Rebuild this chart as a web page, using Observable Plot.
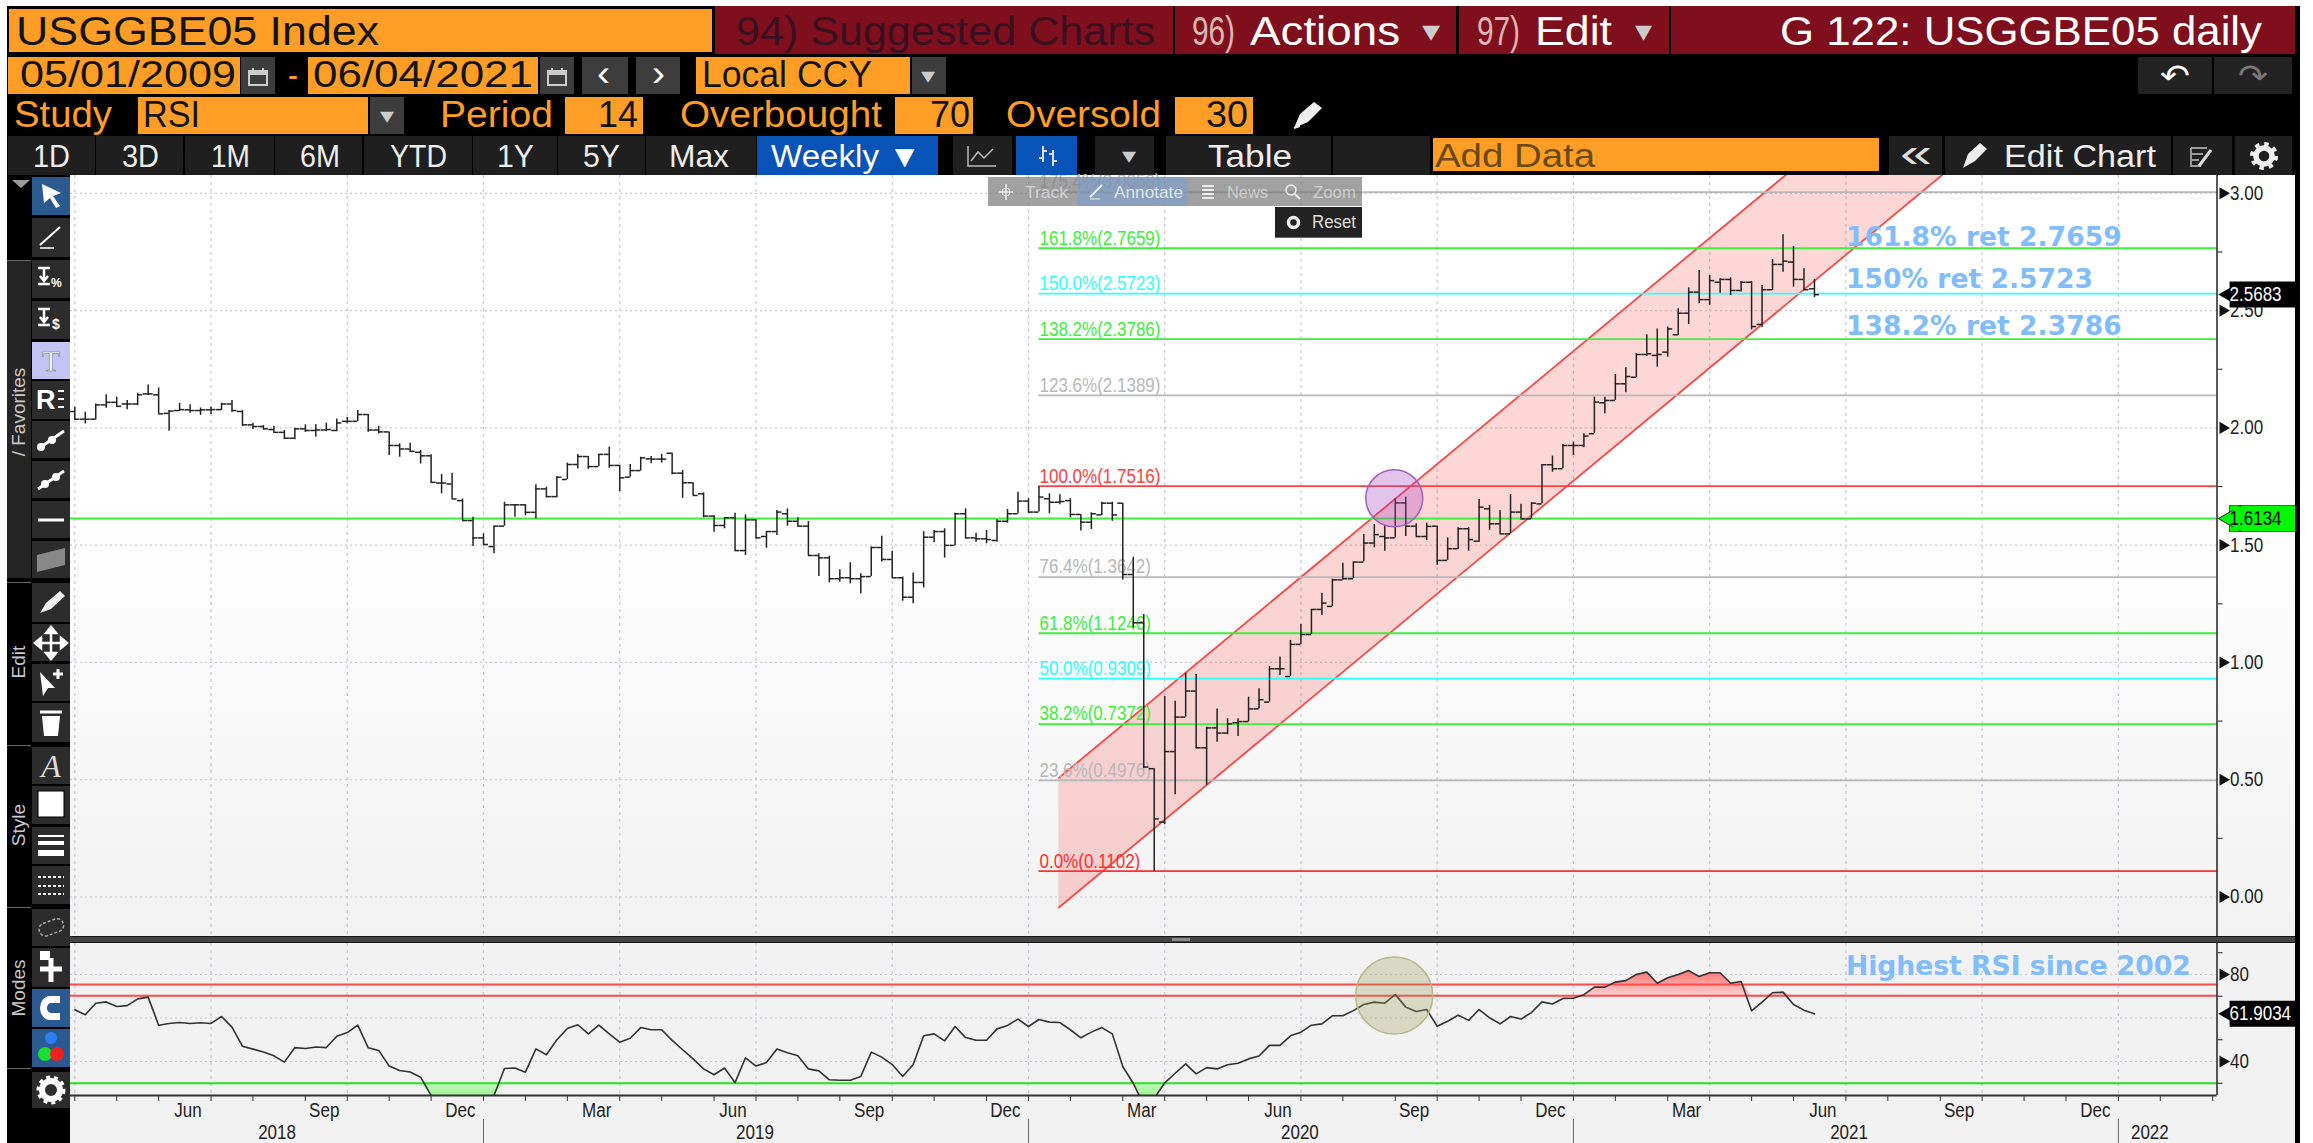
<!DOCTYPE html>
<html><head><meta charset="utf-8">
<script src="https://cdn.jsdelivr.net/npm/d3@7"></script>
<script src="https://cdn.jsdelivr.net/npm/@observablehq/plot@0.6"></script>
<style>
html,body{margin:0;padding:0;background:#fff;overflow:hidden}
#page{position:relative;width:2313px;height:1143px;overflow:hidden;background:#fff;font-family:"Liberation Sans",sans-serif}
#black{position:absolute;left:7px;top:6px;width:2293px;height:1137px;background:#000}
.b{position:absolute;box-sizing:border-box}
.t{position:absolute;white-space:pre;transform-origin:0 50%;display:inline-block}
.plot{position:absolute}
.plot svg{display:block}
</style></head><body>
<div id="page"><div id="black"></div></div>
<svg width="0" height="0" style="position:absolute"><defs>
<linearGradient id="redGrad" x1="0" y1="0" x2="0" y2="1"><stop offset="0" stop-color="#ff7070"/><stop offset="1" stop-color="#ffd0d0"/></linearGradient>
<linearGradient id="greenGrad" x1="0" y1="0" x2="0" y2="1"><stop offset="0" stop-color="#c8f8c0"/><stop offset="1" stop-color="#7df070"/></linearGradient>
</defs></svg>
<script>
// ---------- weekly bars of USGGBE05 Index, one entry per week (first visible bar = 0)
const barOpen=[2.070,2.037,2.037,2.098,2.109,2.102,2.102,2.145,2.141,2.062,
2.074,2.077,2.074,2.077,2.078,2.102,2.070,2.013,2.006,1.993,
1.981,1.956,1.996,1.989,1.991,1.989,2.028,2.028,2.057,1.991,
1.983,1.925,1.910,1.896,1.881,1.765,1.761,1.690,1.605,1.531,
1.494,1.581,1.672,1.672,1.640,1.740,1.707,1.780,1.844,1.878,
1.835,1.887,1.840,1.790,1.818,1.868,1.867,1.892,1.807,1.766,
1.719,1.624,1.584,1.617,1.477,1.608,1.537,1.558,1.634,1.602,
1.581,1.456,1.446,1.357,1.361,1.357,1.366,1.490,1.439,1.361,
1.278,1.341,1.534,1.558,1.499,1.634,1.531,1.527,1.520,1.602,
1.634,1.688,1.641,1.698,1.683,1.690,1.631,1.598,1.629,1.679,
1.679,1.375,1.169,0.547,0.319,0.620,0.767,0.878,0.636,0.721,
0.699,0.743,0.748,0.802,0.831,0.973,0.940,1.077,1.119,1.226,
1.239,1.352,1.357,1.428,1.509,1.537,1.531,1.680,1.581,1.537,
1.581,1.435,1.485,1.570,1.517,1.655,1.591,1.548,1.641,1.612,
1.676,1.843,1.826,1.925,1.925,1.975,2.107,2.117,2.188,2.216,
2.313,2.309,2.323,2.397,2.489,2.579,2.547,2.621,2.633,2.586,
2.621,2.441,2.589,2.697,2.707,2.633,2.593];
const barHigh=[2.088,2.067,2.102,2.141,2.131,2.117,2.148,2.183,2.170,2.074,
2.105,2.099,2.085,2.088,2.105,2.117,2.074,2.020,2.010,2.007,
1.989,1.999,2.013,2.013,2.020,2.038,2.045,2.074,2.057,2.007,
1.983,1.932,1.935,1.903,1.885,1.801,1.807,1.697,1.619,1.548,
1.581,1.683,1.673,1.673,1.758,1.747,1.792,1.850,1.887,1.878,
1.887,1.918,1.840,1.844,1.875,1.878,1.887,1.892,1.818,1.766,
1.723,1.627,1.617,1.636,1.629,1.608,1.558,1.648,1.655,1.617,
1.601,1.463,1.453,1.395,1.425,1.378,1.492,1.538,1.474,1.364,
1.381,1.558,1.563,1.570,1.636,1.655,1.551,1.563,1.608,1.652,
1.726,1.698,1.750,1.719,1.715,1.698,1.631,1.638,1.683,1.683,
1.679,1.449,1.204,0.547,0.855,0.835,0.954,0.949,0.724,0.802,
0.760,0.760,0.852,0.888,0.983,1.023,1.094,1.162,1.226,1.295,
1.355,1.423,1.428,1.545,1.588,1.584,1.698,1.705,1.591,1.594,
1.581,1.531,1.574,1.574,1.695,1.669,1.648,1.716,1.674,1.681,
1.844,1.880,1.929,1.939,1.975,2.131,2.131,2.228,2.256,2.316,
2.397,2.422,2.430,2.508,2.597,2.671,2.650,2.636,2.640,2.624,
2.624,2.607,2.718,2.823,2.773,2.678,2.633];
const barLow=[2.034,2.017,2.034,2.084,2.088,2.077,2.095,2.138,2.060,1.986,
2.070,2.062,2.053,2.057,2.074,2.067,2.006,1.993,1.991,1.977,
1.950,1.949,1.981,1.960,1.984,1.984,2.017,2.027,1.981,1.974,
1.882,1.875,1.896,1.846,1.765,1.719,1.697,1.605,1.494,1.498,
1.463,1.581,1.619,1.626,1.612,1.702,1.702,1.780,1.825,1.823,
1.835,1.828,1.729,1.790,1.816,1.847,1.850,1.800,1.700,1.712,
1.617,1.555,1.570,1.474,1.456,1.527,1.487,1.541,1.581,1.577,
1.456,1.366,1.339,1.342,1.335,1.293,1.366,1.428,1.361,1.261,
1.250,1.318,1.510,1.445,1.499,1.527,1.513,1.506,1.513,1.594,
1.634,1.638,1.641,1.634,1.672,1.617,1.560,1.567,1.627,1.602,
1.352,1.146,0.547,0.110,0.308,0.436,0.767,0.632,0.476,0.660,
0.692,0.684,0.746,0.802,0.831,0.944,0.940,1.077,1.119,1.200,
1.239,1.352,1.357,1.428,1.489,1.474,1.531,1.537,1.537,1.520,
1.414,1.435,1.482,1.475,1.513,1.563,1.548,1.548,1.612,1.612,
1.676,1.811,1.826,1.882,1.915,1.975,2.060,2.117,2.150,2.216,
2.304,2.259,2.302,2.394,2.441,2.529,2.522,2.574,2.564,2.579,
2.418,2.429,2.586,2.664,2.600,2.586,2.555];
const barClose=[2.037,2.037,2.098,2.109,2.092,2.102,2.141,2.145,2.060,2.072,
2.078,2.074,2.077,2.078,2.102,2.074,2.013,2.006,1.996,1.981,
1.956,1.996,1.989,1.991,1.993,2.021,2.028,2.057,1.991,1.983,
1.925,1.910,1.900,1.881,1.768,1.765,1.697,1.605,1.531,1.503,
1.581,1.672,1.672,1.640,1.740,1.707,1.790,1.844,1.878,1.835,
1.887,1.840,1.787,1.818,1.872,1.867,1.867,1.807,1.766,1.712,
1.624,1.584,1.617,1.477,1.608,1.531,1.558,1.641,1.602,1.581,
1.456,1.446,1.357,1.361,1.357,1.366,1.490,1.439,1.361,1.278,
1.341,1.534,1.558,1.499,1.634,1.531,1.527,1.524,1.602,1.634,
1.688,1.641,1.705,1.683,1.686,1.631,1.598,1.634,1.679,1.629,
1.375,1.169,0.554,0.333,0.620,0.767,0.878,0.636,0.721,0.699,
0.738,0.748,0.802,0.841,0.973,0.973,1.077,1.119,1.226,1.253,
1.352,1.357,1.428,1.509,1.545,1.531,1.680,1.581,1.537,1.580,
1.435,1.485,1.570,1.524,1.662,1.591,1.548,1.641,1.612,1.679,
1.843,1.826,1.925,1.925,1.965,2.110,2.117,2.188,2.219,2.313,
2.316,2.313,2.422,2.489,2.579,2.547,2.628,2.633,2.586,2.621,
2.432,2.589,2.697,2.711,2.633,2.589,2.568];
const rsiValues=[63.8,61.5,66.8,67.4,65.3,65.7,68.8,69.6,56.7,57.5,
57.9,57.5,57.8,57.5,60.7,55.8,47,45.7,44.4,42.6,
39.7,46.4,46,46.7,46.4,51.6,53.3,56.7,46.3,45.1,
37.9,35.9,35.2,32.8,24.4,22,21,20,21,22,
24.4,36.8,37,35.1,45.8,43.1,50,55.2,56.9,52.7,
56.7,52.7,48.9,50.7,55.6,54.6,54.6,49.7,45.4,41.2,
36.6,33.9,37,30.3,41.7,37.9,39.5,45.7,44,42.6,
36.6,35.7,31.6,31.4,31.4,33.1,44.3,42,38.6,33.1,
38.6,51.8,52.7,49.5,56.1,51,49.8,49.8,55,56.6,
59.5,56.1,59.3,58.1,57.9,54.6,50.9,53.5,55.6,52.7,
37.7,30,20,23,
30.2,34.6,38.9,34.3,37.2,36.6,38.5,39.2,41.2,42.5,
47.4,47.4,51.8,53.5,56.7,57.3,61,61,63.4,66.2,
67.3,66.8,70.8,65,63,63.9,56.2,58.5,61.3,58.9,
63.9,60.1,57.3,60.7,59.5,62.5,67.4,66.4,69,69.1,
70.7,74.2,74.2,76.5,77.2,80,81.1,76,78.5,80,
81.8,79.1,80.8,80.8,76,76.8,63.3,67.3,71.6,71.9,
66.2,63.6,61.9];

// Fibonacci levels drawn from the 0.1102 low to the 1.7516 high
const fibValues=[3.0056,2.7659,2.5723,2.3786,2.1389,1.7516,1.3642,1.1246,0.9309,0.7372,0.4976,0.1102];
const fibPercents=["175.4%","161.8%","150.0%","138.2%","123.6%","100.0%","76.4%","61.8%","50.0%","38.2%","23.6%","0.0%"];
const fibColors=["#b8b8b8","#3cf03c","#30ffff","#3cf03c","#b8b8b8","#ff4040","#b8b8b8","#3cf03c","#30ffff","#3cf03c","#b8b8b8","#ff3030"];
const fibStartWeek=92;
const supportLevel=1.6134, lastPrice=2.5683, lastRsi=61.9034;

// Trend channel
const channelWeeks=[93.9,178.5], channelLower=[-0.045,3.09], channelUpper=[0.508,3.643];

// Call-outs
const calloutText=["161.8% ret 2.7659","150% ret 2.5723","138.2% ret 2.3786"];
const calloutY=[2.81,2.633,2.432];
const calloutWeek=169;
const rsiCallout="Highest RSI since 2002", rsiCalloutY=83.7;
const markerWeek=125.9, markerPrice=1.70, markerRsi=70.3;

// Axes
const priceLabels=[0,0.5,1,1.5,2,2.5,3];
const priceMinor=[0.25,0.75,1.25,1.75,2.25,2.75];
const rsiGrid=[80,60,40], rsiLabels=[80,40], rsiMinor=[90,70,50,30];
const rsiBands=[75.4,70.2], rsiOversold=30;
const gridWeeks=[0,13,26,39,52,65,78,91,104,117,130,143,156,169,182,195];
const minorWeeks=[0,4,8,13,17,22,26,30,34,39,43,47,52,56,61,65,69,73,78,82,87,91,95,100,104,108,112,117,121,126,130,134,138,143,147,152,156,160,164,169,173,178,182,186,190,195,199,204];
const monthNames=["Jun","Sep","Dec","Mar","Jun","Sep","Dec","Mar","Jun","Sep","Dec","Mar","Jun","Sep","Dec"];
const monthWeeks=[10.8,23.8,36.8,49.8,62.8,75.8,88.8,101.8,114.8,127.8,140.8,153.8,166.8,179.8,192.8];
const yearNames=["2018","2019","2020","2021","2022"];
const yearWeeks=[19.3,64.9,116.9,169.3,198];
const yearBreaks=[39,91,143,195];

const bars=barOpen.map((o,i)=>({i,o,h:barHigh[i],l:barLow[i],c:barClose[i],r:rsiValues[i]}));
const xMin=-0.41,xMax=204.41;
const narrow='"Liberation Sans Narrow","Liberation Sans",sans-serif';
const gridColor="#c9c9d6";
const page=document.getElementById("page");

function addPlot(left,top,plot){
  const d=document.createElement("div");d.className="plot";d.style.left=left+"px";d.style.top=top+"px";d.appendChild(plot);page.appendChild(d);
  // The narrow face is not guaranteed: condense any text set in that stack.
  plot.querySelectorAll("text").forEach(t=>{
    const g=t.closest("[font-family]");
    if(g&&g.getAttribute("font-family").includes("Narrow")){
      t.setAttribute("textLength",(t.getComputedTextLength()*0.85).toFixed(1));
      t.setAttribute("lengthAdjust","spacingAndGlyphs");
    }
  });
}
const tag=(value,bg,fg,text,edge)=>[
  ...(edge?[Plot.ruleY([value],{x1:xMax+1.2,x2:xMax+7.49,stroke:edge,strokeWidth:27})]:[]),
  Plot.ruleY([value],{x1:xMax+1.25,x2:xMax+7.49,stroke:bg,strokeWidth:26}),
  Plot.dot([value],{x:xMax+1.55,y:d=>d,symbol:"triangle",rotate:-90,r:9.6,fill:bg,stroke:edge||bg,strokeWidth:edge?1:0}),
  Plot.ruleY([value],{x1:xMax+1.55,x2:xMax+7.49,stroke:bg,strokeWidth:24}),
  Plot.text([text],{x:xMax+1.2,y:value,text:d=>d,textAnchor:"start",fill:fg,fontSize:20,fontFamily:narrow})
];
// ---------- main price pane
addPlot(70,175,Plot.plot({
  width:2225,height:761,marginLeft:0,marginRight:78.5,marginTop:0,marginBottom:0,
  style:{background:"linear-gradient(#fff 0%,#fff 40%,#f2f2f2 100%)",overflow:"visible"},
  x:{domain:[xMin,xMax],axis:null},
  y:{domain:[-0.1684,3.0761],axis:null},
  marks:[
    Plot.ruleY(priceLabels,{stroke:gridColor,strokeDasharray:"2,3",strokeWidth:1.2}),
    Plot.ruleX(gridWeeks,{stroke:gridColor,strokeDasharray:"3,4",strokeWidth:1.2}),
    Plot.areaY(channelWeeks,{x:d=>d,y1:(d,i)=>channelLower[i],y2:(d,i)=>channelUpper[i],fill:"#f86060",fillOpacity:0.26,clip:true}),
    Plot.line(channelWeeks,{x:d=>d,y:(d,i)=>channelLower[i],stroke:"#f84848",strokeWidth:1.8,clip:true}),
    Plot.line(channelWeeks,{x:d=>d,y:(d,i)=>channelUpper[i],stroke:"#f84848",strokeWidth:1.8,clip:true}),
    Plot.ruleY([supportLevel],{stroke:"#3cf03c",strokeWidth:2}),
    Plot.ruleY(fibValues,{x1:fibStartWeek,x2:xMax,y:d=>d,stroke:(d,i)=>fibColors[i],strokeWidth:1.8}),
    Plot.text(fibValues,{x:fibStartWeek+0.05,y:d=>d,text:(d,i)=>`${fibPercents[i]}(${d.toFixed(4)})`,fill:(d,i)=>fibColors[i],textAnchor:"start",dy:-10,fontSize:20,fontFamily:narrow}),
    Plot.ruleX(bars,{x:"i",y1:"l",y2:"h",stroke:"#222",strokeWidth:1.5}),
    Plot.ruleY(bars,{y:"o",x1:d=>d.i-0.48,x2:"i",stroke:"#222",strokeWidth:1.5}),
    Plot.ruleY(bars,{y:"c",x1:"i",x2:d=>d.i+0.48,stroke:"#222",strokeWidth:1.5}),
    Plot.dot([markerPrice],{x:markerWeek,y:d=>d,r:28.5,fill:"#a848c0",fillOpacity:0.32,stroke:"#a060b8",strokeWidth:1.5}),
    Plot.text(calloutText,{x:calloutWeek,y:(d,i)=>calloutY[i],text:d=>d,textAnchor:"start",fill:"#82bdfb",fontSize:26.6,fontWeight:"bold",fontFamily:"DejaVu Sans"}),
    Plot.ruleX([xMax],{stroke:"#222",strokeWidth:1.5}),
    Plot.axisY({anchor:"right",ticks:priceMinor,tickSize:5,text:null,label:null,stroke:"#222"}),
    Plot.dot(priceLabels,{x:xMax,y:d=>d,dx:6,symbol:"triangle",rotate:90,r:4.5,fill:"#111"}),
    Plot.text(priceLabels,{x:xMax,y:d=>d,text:d=>d.toFixed(2),dx:13,textAnchor:"start",fontSize:20,fontFamily:narrow,fill:"#1d1d1d"}),
    ...tag(lastPrice,"#000","#fff",lastPrice.toFixed(4)),
    ...tag(supportLevel,"#00f800","#000",supportLevel.toFixed(4),"#222")
  ]
}));
// ---------- RSI pane with the time axis below it
addPlot(70,943,Plot.plot({
  width:2225,height:200,marginLeft:0,marginRight:78.5,marginTop:0,marginBottom:48,
  style:{background:"#f2f2f2",overflow:"visible"},
  x:{domain:[xMin,xMax],axis:null},
  y:{domain:[24.37,94.25],axis:null},
  marks:[
    Plot.ruleY(rsiGrid,{stroke:gridColor,strokeDasharray:"2,3",strokeWidth:1.2}),
    Plot.ruleX(gridWeeks,{stroke:gridColor,strokeDasharray:"3,4",strokeWidth:1.2}),
    Plot.areaY(bars,{x:"i",y1:rsiBands[1],y2:d=>Math.max(d.r,rsiBands[1]),fill:"url(#redGrad)",clip:true}),
    Plot.areaY(bars,{x:"i",y1:rsiOversold,y2:d=>Math.min(d.r,rsiOversold),fill:"url(#greenGrad)",clip:true}),
    Plot.ruleY(rsiBands,{stroke:"#ff4a4a",strokeWidth:2}),
    Plot.ruleY([rsiOversold],{stroke:"#22e622",strokeWidth:2}),
    Plot.line(bars,{x:"i",y:"r",stroke:"#333",strokeWidth:1.6,clip:true}),
    Plot.dot([markerRsi],{x:markerWeek,y:d=>d,r:38.5,fill:"#9a9a5a",fillOpacity:0.3,stroke:"#b8b888",strokeWidth:1.5}),
    Plot.text([rsiCallout],{x:calloutWeek,y:rsiCalloutY,textAnchor:"start",text:d=>d,fill:"#82bdfb",fontSize:26.6,fontWeight:"bold",fontFamily:"DejaVu Sans"}),
    Plot.ruleY([24.37],{stroke:"#333",strokeWidth:2}),
    Plot.ruleX([xMax],{y1:24.37,y2:94.25,stroke:"#222",strokeWidth:1.5}),
    Plot.axisY({anchor:"right",ticks:rsiMinor,tickSize:5,text:null,label:null,stroke:"#222"}),
    Plot.dot(rsiLabels,{x:xMax,y:d=>d,dx:6,symbol:"triangle",rotate:90,r:4.5,fill:"#111"}),
    Plot.text(rsiLabels,{x:xMax,y:d=>d,text:d=>String(d),dx:13,textAnchor:"start",fontSize:20,fontFamily:narrow,fill:"#1d1d1d"}),
    ...tag(lastRsi,"#000","#fff",lastRsi.toFixed(4)),
    Plot.axisX({anchor:"bottom",ticks:minorWeeks,tickSize:6,text:null,label:null,stroke:"#333"}),
    Plot.text(monthNames,{x:(d,i)=>monthWeeks[i],text:d=>d,frameAnchor:"bottom",dy:15,fontSize:20,fontFamily:narrow,lineAnchor:"middle",fill:"#222"}),
    Plot.text(yearNames,{x:(d,i)=>yearWeeks[i],text:d=>d,frameAnchor:"bottom",dy:37,fontSize:20,fontFamily:narrow,lineAnchor:"middle",fill:"#222"}),
    Plot.ruleX(yearBreaks,{y1:13.3,y2:2.3,stroke:"#666",strokeWidth:1})
  ]
}));

// ---------- terminal chrome around the chart
function box(x1,y1,x2,y2,bg,extra){const e=document.createElement("div");e.className="b";e.style.cssText=`left:${x1}px;top:${y1}px;width:${x2-x1}px;height:${y2-y1}px;background:${bg};${extra||""}`;page.appendChild(e);return e;}
function txt(s,x1,x2,yc,size,color,extra){const e=document.createElement("span");e.className="t";e.textContent=s;e.style.cssText=`left:${x1}px;top:${yc-size/2}px;line-height:${size}px;font-size:${size}px;color:${color};${extra||""}`;page.appendChild(e);
  const w=e.getBoundingClientRect().width;e.style.transform=`scaleX(${(x2-x1)/w})`;return e;}
function icon(x,y,w,h,inner){const d=document.createElement("div");d.style.cssText=`position:absolute;left:${x}px;top:${y}px;width:${w}px;height:${h}px`;d.innerHTML=`<svg width="${w}" height="${h}" viewBox="0 0 ${w} ${h}" style="display:block">${inner}</svg>`;page.appendChild(d);}
const ORANGE="#ff9e26",MAROON="#7f0f1d",BTN="#1f1f1f",GREY="#3d3d3d",OTXT="#ff9e26";
const H1=40,H2=36,H3=31;
// row 1
box(8,8,713,53,ORANGE,"border:1px solid #000");txt("USGGBE05 Index",16,379,31,H1,"#141414");
box(715,6,1173,54,MAROON);txt("94) Suggested Charts",736,1155,31,H1,"#3a1020");
box(1175,6,1456,54,MAROON);txt("96)",1192,1235,31,H1,"#e0b4b4");txt("Actions",1250,1400,31,H1,"#fff");txt("▾",1422,1440,31,30,"#ccc");
box(1459,6,1669,54,MAROON);txt("97)",1477,1520,31,H1,"#e0b4b4");txt("Edit",1535,1612,31,H1,"#fff");txt("▾",1635,1652,31,30,"#ccc");
box(1671,6,2295,54,MAROON);txt("G 122: USGGBE05 daily",1780,2262,31,H1,"#fff");
// row 2
box(8,57,240,94,ORANGE);txt("05/01/2009",20,236,75,H2,"#141414");
box(241,57,275,94,GREY);
box(308,57,538,94,ORANGE);txt("06/04/2021",313,533,75,H2,"#141414");
box(540,57,574,94,GREY);
[[248,68],[547,68]].forEach(([x,y])=>icon(x,y,20,18,`<rect x="1" y="3" width="18" height="14" fill="none" stroke="#ccc" stroke-width="2"/><rect x="1" y="3" width="18" height="4" fill="#ccc"/><rect x="4" y="0" width="2" height="5" fill="#ccc"/><rect x="14" y="0" width="2" height="5" fill="#ccc"/>`));
txt("-",288,298,75,H2,OTXT);
box(582,57,628,94,GREY);txt("‹",597,610,74,36,"#fff");box(636,57,680,94,GREY);txt("›",652,665,74,36,"#fff");
box(696,57,910,94,ORANGE);txt("Local CCY",702,872,75,H2,"#141414");box(912,57,946,94,GREY);txt("▾",921,935,76,22,"#ccc");
box(2138,57,2212,94,"#222");txt("↶",2160,2190,76,32,"#fff","font-family:'DejaVu Sans'");box(2214,57,2292,94,"#222");txt("↷",2238,2268,76,32,"#777","font-family:'DejaVu Sans'");
// row 3
txt("Study",14,112,115,H2,OTXT);box(138,97,368,134,ORANGE);txt("RSI",143,200,115,H2,"#141414");box(370,97,404,134,GREY);txt("▾",380,394,116,22,"#ccc");
txt("Period",440,553,115,H2,OTXT);box(565,97,643,134,ORANGE);txt("14",598,638,115,H2,"#141414");
txt("Overbought",680,882,115,H2,OTXT);box(895,97,973,134,ORANGE);txt("70",930,970,115,H2,"#141414");
txt("Oversold",1006,1161,115,H2,OTXT);box(1175,97,1253,134,ORANGE);txt("30",1206,1248,115,H2,"#141414");
icon(1288,100,40,32,`<path d="M6 28 L12 14 L26 2 L34 8 L20 22 Z" fill="#eee"/><path d="M6 28 L12 26" stroke="#eee" stroke-width="2"/>`);
// row 4
[["1D",8,95,33,70],["3D",96,183,122,159],["1M",185,274,211,250],["6M",275,362,300,340],["YTD",364,472,390,447],["1Y",473,557,497,534],["5Y",558,645,583,620],["Max",646,756,669,729]].forEach(([s,a,b,t1,t2])=>{box(a,136,b,175,BTN);txt(s,t1,t2,156,H3,"#eee");});
box(757,136,938,175,"#0753b8");txt("Weekly ▼",771,921,156,H3,"#fff");
box(953,136,1012,175,BTN);icon(966,144,32,24,`<path d="M2 2V22H30" fill="none" stroke="#bbb" stroke-width="1.5"/><path d="M5 17 L12 8 L18 14 L27 5" fill="none" stroke="#bbb" stroke-width="1.5"/>`);
box(1016,136,1077,175,"#0753b8");icon(1036,144,24,24,`<path d="M7 2V18M3 14H7M7 7H11M17 6V22M13 10H17M17 17H21" stroke="#ddd" stroke-width="2" fill="none"/>`);
box(1095,136,1154,175,BTN);txt("▾",1122,1136,156,22,"#ccc");
box(1166,136,1331,175,BTN);txt("Table",1208,1292,156,H3,"#eee");box(1333,136,1430,175,BTN);
box(1432,137,1880,172,ORANGE,"border:1px solid #000");txt("Add Data",1435,1595,155,33,"#6a4a10");
box(1889,136,1942,175,BTN);txt("«",1900,1932,153,40,"#ddd");
box(1945,136,2171,175,BTN);icon(1960,142,32,28,`<path d="M3 26 L8 12 L20 1 L27 7 L15 19 Z" fill="#eee"/>`);txt("Edit Chart",2004,2156,156,H3,"#eee");
box(2173,136,2232,175,BTN);icon(2189,146,28,22,`<path d="M2 2H18M2 8H14M2 14H10M2 2V20H12" stroke="#999" stroke-width="2" fill="none"/><path d="M10 20 L22 4" stroke="#ddd" stroke-width="3"/>`);
box(2235,136,2292,175,BTN);icon(2247,139,34,34,`<circle cx="17" cy="17" r="8" fill="none" stroke="#eee" stroke-width="5.5"/><circle cx="17" cy="17" r="12" fill="none" stroke="#eee" stroke-width="4" stroke-dasharray="4.5,4.9"/>`);

// left rail
box(7,260,31,578,"#242424");
[[260],[582],[745],[907],[1068]].forEach(([y])=>box(7,y,31,y+1,"#666"));
const rot=(s,yc,size,col)=>{const e=document.createElement("span");e.textContent=s;e.style.cssText=`position:absolute;left:19px;top:${yc}px;transform:translate(-50%,-50%) rotate(-90deg);font-size:${size}px;color:${col};white-space:pre;font-family:"Liberation Sans"`;page.appendChild(e);};
rot("/ Favorites",412,19,"#c8c8c8");rot("Edit",662,19,"#c8c8d8");rot("Style",825,19,"#c8c8d8");rot("Modes",988,19,"#c8c8c8");
icon(12,180,18,10,`<path d="M0 0H18L9 8Z" fill="#999"/>`);
const rail=[[177,215,"#2a5a8f","cursor"],[218,257,"#2c2c2c","pen"],[260,298,"#2c2c2c","pct"],[301,339,"#2c2c2c","usd"],[342,379,"#c4c4f4","T"],[381,419,"#2c2c2c","R"],[421,458,"#2c2c2c","seg"],[461,498,"#2c2c2c","seg2"],[501,538,"#2c2c2c","hline"],[541,578,"#2c2c2c","chan"],[583,622,"#2c2c2c","brush"],[624,661,"#2c2c2c","move"],[664,701,"#2c2c2c","plus"],[703,742,"#2c2c2c","trash"],[747,784,"#2c2c2c","A"],[786,824,"#2c2c2c","white"],[827,864,"#2c2c2c","lines"],[866,904,"#2c2c2c","dash"],[909,946,"#2c2c2c","lasso"],[948,987,"#2c2c2c","lock"],[989,1027,"#2a5a8f","magnet"],[1029,1067,"#2a5a8f","rgb"],[1072,1108,"#2c2c2c","gear"]];
const railIcons={
 cursor:`<path d="M10 7 L29 16 L21 19 L28 29 L24 31 L18 21 L12 26 Z" fill="#fff"/>`,
 pen:`<path d="M8 27 L28 9" stroke="#fff" stroke-width="2"/><path d="M8 30H22" stroke="#ccc" stroke-width="2"/>`,
 pct:`<path d="M6 8H18M6 24H18M12 8V20M8 16L12 21L16 16" stroke="#fff" stroke-width="2.5" fill="none"/><text x="19" y="27" font-size="12" font-weight="bold" fill="#fff">%</text>`,
 usd:`<path d="M6 8H18M6 24H18M12 8V20M8 16L12 21L16 16" stroke="#fff" stroke-width="2.5" fill="none"/><text x="20" y="28" font-size="14" font-weight="bold" fill="#fff">$</text>`,
 T:`<text x="19" y="29" text-anchor="middle" font-family="Liberation Serif" font-size="30" fill="#fff" stroke="#777" stroke-width=".6">T</text>`,
 R:`<text x="4" y="28" font-size="27" font-weight="bold" fill="#fff" font-family="Liberation Sans">R</text><path d="M26 10H32M26 18H32M26 26H32" stroke="#fff" stroke-width="2"/>`,
 seg:`<path d="M6 28L32 10" stroke="#fff" stroke-width="3"/><circle cx="9" cy="26" r="4" fill="#fff"/><circle cx="20" cy="19" r="4" fill="#fff"/>`,
 seg2:`<path d="M6 28L32 10" stroke="#fff" stroke-width="3"/><circle cx="13" cy="23" r="4" fill="#fff"/><circle cx="24" cy="16" r="4" fill="#fff"/>`,
 hline:`<path d="M6 19H32" stroke="#fff" stroke-width="3"/>`,
 chan:`<path d="M5 14L33 7V24L5 31Z" fill="#888"/>`,
 brush:`<path d="M8 30L14 20L28 8L33 13L19 26Z" fill="#eee"/>`,
 move:`<path d="M19 6V32M6 19H32M19 3L14 9H24ZM19 35L14 29H24ZM3 19L9 14V24ZM35 19L29 14V24Z" stroke="#fff" stroke-width="2.5" fill="#fff"/>`,
 plus:`<path d="M8 8L23 24L16 24L11 32Z" fill="#fff"/><path d="M26 5V15M21 10H31" stroke="#fff" stroke-width="3"/>`,
 trash:`<path d="M10 13H28L26 33H12Z" fill="#fff"/><path d="M8 9H30" stroke="#fff" stroke-width="3"/>`,
 A:`<text x="19" y="30" text-anchor="middle" font-family="Liberation Serif" font-style="italic" font-size="32" fill="#ddd">A</text>`,
 white:`<rect x="6" y="5" width="26" height="26" fill="#fff" stroke="#000"/>`,
 lines:`<path d="M6 9H32" stroke="#fff" stroke-width="2"/><path d="M6 16H32" stroke="#fff" stroke-width="4"/><path d="M6 26H32" stroke="#fff" stroke-width="6"/>`,
 dash:`<path d="M6 11H32M6 20H32M6 28H32" stroke="#fff" stroke-width="2" stroke-dasharray="3,2"/>`,
 lasso:`<rect x="7" y="12" width="25" height="13" rx="6" transform="rotate(-20 19 19)" fill="none" stroke="#aaa" stroke-width="1.5" stroke-dasharray="3,2"/>`,
 lock:`<path d="M19 10V34M8 21H30" stroke="#fff" stroke-width="5"/><rect x="8" y="3" width="10" height="9" fill="#fff"/>`,
 magnet:`<path d="M28 7H18A10 12 0 0 0 18 31H28V24H19A4 5 0 0 1 19 14H28Z" fill="#fff"/>`,
 rgb:`<circle cx="19" cy="9" r="6" fill="#2a80f0"/><circle cx="13" cy="25" r="7" fill="#18e030"/><circle cx="25" cy="25" r="7" fill="#f02020"/>`,
 gear:`<circle cx="19" cy="18" r="9" fill="none" stroke="#fff" stroke-width="6"/><circle cx="19" cy="18" r="13" fill="none" stroke="#fff" stroke-width="3" stroke-dasharray="4,4"/>`
};
rail.forEach(([a,b,bg,k])=>{box(32,a,70,b,bg);icon(32,a,38,b-a,railIcons[k]);});

// splitter
box(70,936,2295,943,"#444","border-top:1px solid #111;border-bottom:1px solid #111");
box(1172,938,1190,941,"#888");

// floating chart toolbar over the plot
box(988,177,1362,206,"rgba(125,125,125,.72)");
box(1077,177,1188,206,"rgba(120,160,215,.55)");
txt("Track",1025,1068,192,17,"rgba(255,255,255,.55)");
txt("Annotate",1114,1183,192,17,"rgba(255,255,255,.75)");
txt("News",1227,1268,192,17,"rgba(255,255,255,.5)");
txt("Zoom",1313,1356,192,17,"rgba(255,255,255,.5)");
icon(998,183,16,18,`<path d="M8 1V17M1 9H15" stroke="#eee" stroke-width="1.5"/><circle cx="8" cy="9" r="4" fill="none" stroke="#eee"/>`);
icon(1088,182,18,18,`<path d="M2 15L14 3" stroke="#eee" stroke-width="2"/><path d="M2 17H12" stroke="#eee"/>`);
icon(1201,184,14,16,`<path d="M1 2H13M1 6H13M1 10H13M1 14H13" stroke="#eee" stroke-width="2"/>`);
icon(1285,184,16,16,`<circle cx="6" cy="6" r="5" fill="none" stroke="#eee" stroke-width="1.5"/><path d="M10 10L15 15" stroke="#eee" stroke-width="2"/>`);
box(1275,207,1362,238,"#222","border-bottom:1px solid #666");
icon(1286,215,15,15,`<circle cx="7.5" cy="7.5" r="5" fill="none" stroke="#eee" stroke-width="3.5"/>`);
txt("Reset",1312,1356,222,18,"#ddd");
</script>
</body></html>
